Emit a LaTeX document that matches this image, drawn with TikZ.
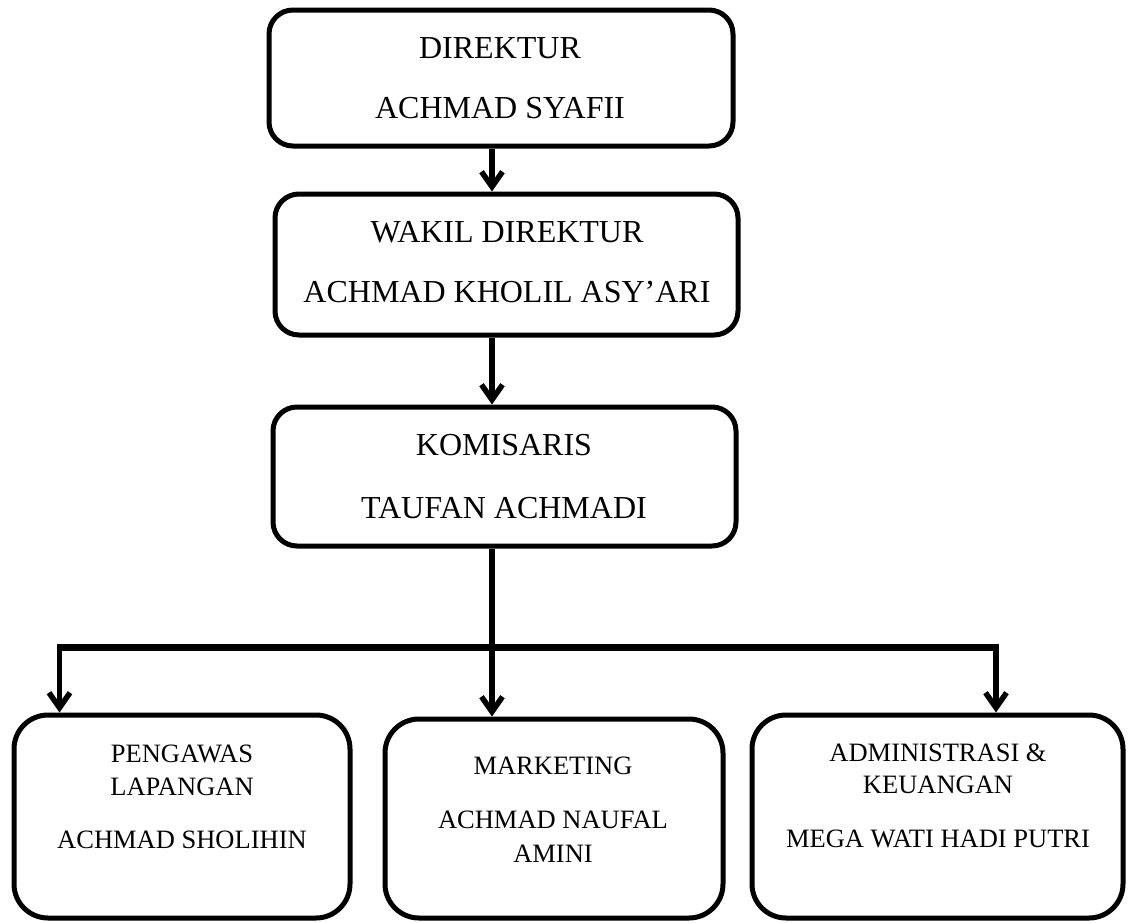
\documentclass[tikz,border=0pt]{standalone}
\usepackage{fontspec}
\setmainfont{Liberation Serif}
\usetikzlibrary{arrows.meta}
\begin{document}
\begin{tikzpicture}[x=1pt,y=-1pt,
  topbox/.style={draw,line width=5pt,rounded corners=24pt,inner sep=0pt},
  botbox/.style={draw,line width=5pt,rounded corners=34pt,inner sep=0pt},
  toptxt/.style={anchor=base,inner sep=0pt,font=\fontsize{32}{38}\selectfont},
  bottxt/.style={anchor=base,inner sep=0pt,font=\fontsize{26.5}{32}\selectfont},
  conn/.style={line width=5.5pt},
  arr/.style={line width=5.5pt,-{Straight Barb[length=15pt,width=21pt]}},
  bus/.style={line width=7pt}]
\useasboundingbox (0,0) rectangle (1128,922);
% boxes
\node[topbox,minimum width=464pt,minimum height=136pt] (b1) at (501,78) {};
\node[topbox,minimum width=463pt,minimum height=141pt] (b2) at (506.5,264.5) {};
\node[topbox,minimum width=463pt,minimum height=139pt] (b3) at (504.5,476.5) {};
\node[botbox,minimum width=336pt,minimum height=203pt] (bA) at (182,816.5) {};
\node[botbox,minimum width=338pt,minimum height=199pt] (bB) at (554,818.5) {};
\node[botbox,minimum width=371pt,minimum height=203pt] (bC) at (937.5,816.5) {};
% texts
\node[toptxt] (t1a) at (500,58) {DIREKTUR};
\node[toptxt] (t1b) at (500,118) {ACHMAD SYAFII};
\node[toptxt] (t2a) at (507,242) {WAKIL DIREKTUR};
\node[toptxt] (t2b) at (507,302) {ACHMAD KHOLIL ASY’ARI};
\node[toptxt] (t3a) at (504,455) {KOMISARIS};
\node[toptxt] (t3b) at (504,518) {TAUFAN ACHMADI};
\node[bottxt] (tAa) at (182,762) {PENGAWAS};
\node[bottxt] (tAb) at (182,795) {LAPANGAN};
\node[bottxt] (tAc) at (182,848) {ACHMAD SHOLIHIN};
\node[bottxt] (tBa) at (553,774) {MARKETING};
\node[bottxt] (tBb) at (553,828) {ACHMAD NAUFAL};
\node[bottxt] (tBc) at (553,862) {AMINI};
\node[bottxt] (tCa) at (938,761) {ADMINISTRASI \&};
\node[bottxt] (tCb) at (938,793) {KEUANGAN};
\node[bottxt] (tCc) at (938,847) {MEGA WATI HADI PUTRI};
% connectors
\coordinate (busL) at (59.5,647);
\coordinate (busM) at (492,647);
\coordinate (busR) at (996,647);
\draw[arr] (b1.south -| busM) -- (b2.north -| busM);
\draw[arr] (b2.south -| busM) -- (b3.north -| busM);
\draw[conn] (b3.south -| busM) -- (busM);
\draw[bus] ([xshift=-2.75pt]busL) -- ([xshift=2.75pt]busR);
\draw[arr] (busL) -- (bA.north -| busL);
\draw[arr] (busM) -- (bB.north -| busM);
\draw[arr] (busR) -- (bC.north -| busR);
\end{tikzpicture}
\end{document}
